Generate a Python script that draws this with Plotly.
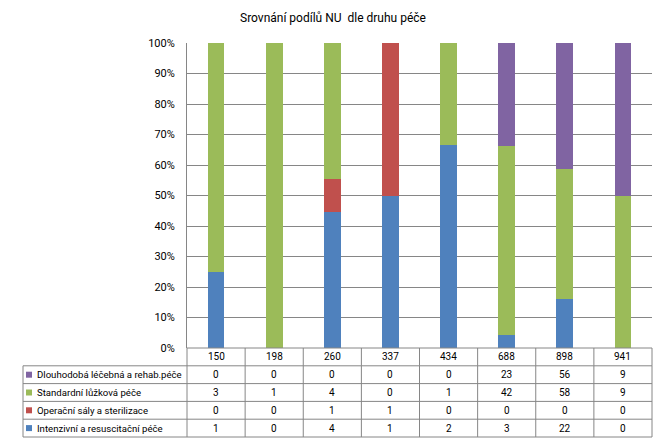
import plotly.graph_objects as go

categories = ["150", "198", "260", "337", "434", "688", "898", "941"]
series_names = [
    "Intenzivní a resuscitační péče",
    "Operační sály a sterilizace",
    "Standardní lůžková péče",
    "Dlouhodobá léčebná a rehab.péče",
]
intenzivni = [1, 0, 4, 1, 2, 3, 22, 0]
operacni = [0, 0, 1, 1, 0, 0, 0, 0]
standardni = [3, 1, 4, 0, 1, 42, 58, 9]
dlouhodoba = [0, 0, 0, 0, 0, 23, 56, 9]
series_values = [intenzivni, operacni, standardni, dlouhodoba]
colors = ["#4F81BD", "#C0504D", "#9BBB59", "#8064A2"]
y_ticks = [0, 10, 20, 30, 40, 50, 60, 70, 80, 90, 100]
y_tick_labels = [f"{v}%" for v in y_ticks]
title = "Srovnání podílů NU  dle druhu péče"

W, H = 667, 442
FONT = "Roboto"
GRID = "#868686"

def px(x):
    return x / W

def py(y):
    return 1 - y / H

# plot area in pixels
PL, PR, PT, PB = 187, 652, 43, 348
TL = 23  # table left
row_h = 17.8

fig = go.Figure()
for name, vals, col in zip(series_names, series_values, colors):
    fig.add_trace(go.Bar(x=categories, y=vals, name=name, marker=dict(color=col, line=dict(width=0))))

shapes = []
annotations = []
line = dict(color=GRID, width=1)

# header row
hdr_top, hdr_bot = PB, PB + row_h
col_w = (PR - PL) / len(categories)
shapes.append(dict(type="line", xref="paper", yref="paper", x0=px(PL), x1=px(PR), y0=py(hdr_top), y1=py(hdr_top), line=line))
for i in range(len(categories) + 1):
    x = PL + i * col_w
    shapes.append(dict(type="line", xref="paper", yref="paper", x0=px(x), x1=px(x), y0=py(hdr_top), y1=py(hdr_bot), line=line))
for i, c in enumerate(categories):
    annotations.append(dict(xref="paper", yref="paper", x=px(PL + (i + 0.5) * col_w), y=py(hdr_top + row_h / 2),
                            text=c, showarrow=False, xanchor="center", yanchor="middle",
                            font=dict(family=FONT, size=10, color="#000")))

# data rows (top to bottom: reverse of stack order)
rows = list(zip(series_names, series_values, colors))[::-1]
for r in range(len(rows) + 1):
    y = hdr_bot + r * row_h
    shapes.append(dict(type="line", xref="paper", yref="paper", x0=px(TL), x1=px(PR), y0=py(y), y1=py(y), line=line))
tbl_bot = hdr_bot + len(rows) * row_h
shapes.append(dict(type="line", xref="paper", yref="paper", x0=px(TL), x1=px(TL), y0=py(hdr_bot), y1=py(tbl_bot), line=line))
for i in range(len(categories) + 1):
    x = PL + i * col_w
    shapes.append(dict(type="line", xref="paper", yref="paper", x0=px(x), x1=px(x), y0=py(hdr_bot), y1=py(tbl_bot), line=line))

for r, (name, vals, col) in enumerate(rows):
    yc = hdr_bot + (r + 0.5) * row_h
    shapes.append(dict(type="rect", xref="paper", yref="paper", x0=px(26), x1=px(32), y0=py(yc - 3), y1=py(yc + 3),
                       fillcolor=col, line=dict(width=0)))
    annotations.append(dict(xref="paper", yref="paper", x=px(35), y=py(yc), text=name, showarrow=False,
                            xanchor="left", yanchor="middle", font=dict(family=FONT, size=9.6, color="#000")))
    for i, v in enumerate(vals):
        annotations.append(dict(xref="paper", yref="paper", x=px(PL + (i + 0.5) * col_w), y=py(yc),
                                text=str(v), showarrow=False, xanchor="center", yanchor="middle",
                                font=dict(family=FONT, size=10, color="#000")))

annotations.append(dict(xref="paper", yref="paper", x=px(333), y=py(18), text=title, showarrow=False,
                        xanchor="center", yanchor="middle", font=dict(family=FONT, size=12, color="#000")))

fig.update_layout(
    width=W, height=H,
    margin=dict(l=0, r=0, t=0, b=0, pad=0),
    paper_bgcolor="white", plot_bgcolor="white",
    barmode="stack", barnorm="percent", bargap=0.71,
    showlegend=False,
    font=dict(family=FONT, size=10, color="#000"),
    xaxis=dict(domain=[px(PL), px(PR)], showticklabels=False, showgrid=False, zeroline=False,
               showline=False, range=[-0.5, len(categories) - 0.5], automargin=False),
    yaxis=dict(domain=[py(PB), py(PT)], range=[0, 100], tickmode="array", tickvals=y_ticks,
               ticktext=y_tick_labels, automargin=False,
               showgrid=True, gridcolor=GRID, gridwidth=1, zeroline=False,
               showline=True, linecolor=GRID, linewidth=1,
               ticks="outside", ticklen=9, tickcolor="rgba(0,0,0,0)",
               tickfont=dict(family=FONT, size=11, color="#000")),
    shapes=shapes,
    annotations=annotations,
)

fig.write_html("out.html")
